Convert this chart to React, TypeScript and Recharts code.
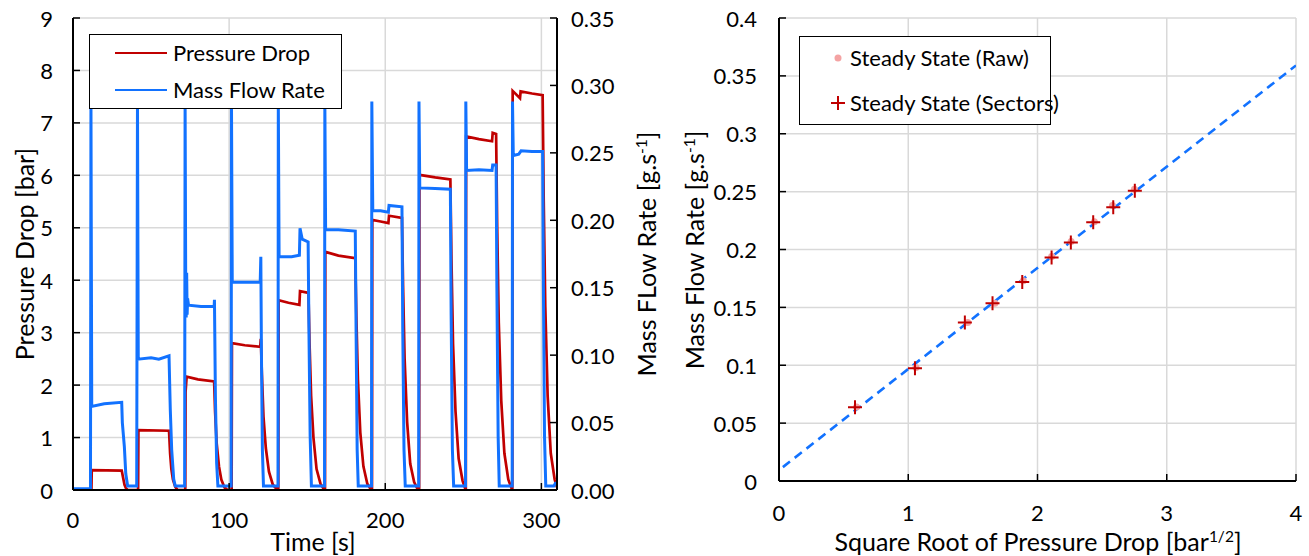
import React from 'react';
import { LineChart, Line, XAxis, YAxis, CartesianGrid, ScatterChart, Scatter } from 'recharts';

const FONT = 'Lato, "Open Sans", sans-serif';
const RED = '#c00000';
const BLUE = '#1272ff';
const PINK = '#f4a3a3';
const GRID = '#d9d9d9';

const timeTicks = [0, 100, 200, 300];
const pressureTicks = [0, 1, 2, 3, 4, 5, 6, 7, 8, 9];
const flowTicks = [0, 0.05, 0.1, 0.15, 0.2, 0.25, 0.3, 0.35];
const sqrtTicks = [0, 1, 2, 3, 4];
const rateTicks = [0, 0.05, 0.1, 0.15, 0.2, 0.25, 0.3, 0.35, 0.4];

// [time s, pressure drop bar]
const pressureDrop: [number, number][] = [
  [0, 0], [11.8, 0], [12, 0.38], [31.2, 0.37], [32, 0.25], [33, 0.1], [34, 0.03], [35, 0],
  [41.7, 0], [41.9, 1.14], [61.5, 1.13], [62.2, 0.7], [63, 0.4], [64, 0.2], [65.5, 0.06], [67, 0],
  [71.9, 0], [72.1, 1.87], [72.8, 2.16], [80, 2.11], [90.4, 2.07], [91, 1.5], [92, 0.9], [93.5, 0.45], [95, 0.2], [97, 0.05], [99, 0],
  [101.6, 0], [101.8, 2.8], [110, 2.76], [119.9, 2.73], [120.3, 2.88], [121, 2.2], [122, 1.4], [123.5, 0.8], [125.5, 0.35], [128, 0.1], [131, 0],
  [131.5, 0], [131.7, 3.62], [138, 3.57], [145, 3.53], [145.4, 3.79], [150.8, 3.76], [151.5, 2.8], [152.5, 1.8], [154, 1], [156, 0.4], [158.5, 0.12], [161, 0],
  [161.4, 0], [161.6, 4.54], [170, 4.47], [180.8, 4.42], [181.5, 3.3], [182.5, 2.1], [184, 1.1], [186, 0.45], [188.5, 0.12], [191, 0],
  [191.5, 0], [191.7, 5.15], [197, 5.12], [202, 5.09], [202.4, 5.23], [210.7, 5.19], [211.4, 3.9], [212.4, 2.5], [214, 1.3], [216, 0.5], [218.5, 0.15], [221, 0],
  [221.7, 0], [221.9, 6.01], [232, 5.96], [241.7, 5.92], [242.4, 4.4], [243.4, 2.8], [245, 1.5], [247, 0.6], [249.5, 0.18], [251.5, 0],
  [251.6, 0], [251.8, 6.74], [260, 6.69], [268.4, 6.65], [268.8, 6.81], [271, 6.79], [271.7, 5], [272.7, 3.2], [274.3, 1.7], [276.3, 0.7], [278.8, 0.2], [281.3, 0],
  [281.4, 0], [281.6, 7.61], [286.3, 7.47], [286.7, 7.6], [294, 7.56], [300.8, 7.53], [301.5, 5.5], [302.5, 3.5], [304, 1.8], [306, 0.7], [308.5, 0.2], [310, 0.05],
];

// [time s, mass flow rate g/s]
const massFlow: [number, number][] = [
  [0, 0.001], [11.2, 0.001], [11.5, 0.288], [12, 0.062], [20, 0.064], [31.2, 0.065], [31.6, 0.05], [32.9, 0.032], [33.8, 0.012], [35, 0.003], [40.8, 0.003],
  [41.3, 0.288], [41.8, 0.097], [50, 0.098], [55, 0.097], [61.5, 0.0995], [62.3, 0.06], [63.2, 0.03], [64.5, 0.008], [65.5, 0.003], [71.5, 0.003],
  [71.8, 0.288], [72.2, 0.15], [72.5, 0.128], [72.8, 0.161], [73.1, 0.13], [73.4, 0.142], [74, 0.137], [82, 0.136], [90.4, 0.136], [90.6, 0.141], [91.2, 0.07], [92, 0.02], [92.8, 0.003], [101.3, 0.003],
  [101.5, 0.288], [102, 0.154], [110, 0.154], [119.9, 0.154], [120.3, 0.173], [120.7, 0.1], [121.3, 0.03], [122, 0.003], [131.3, 0.003],
  [131.5, 0.288], [132, 0.173], [140, 0.173], [145, 0.174], [145.4, 0.194], [146.8, 0.186], [150.6, 0.184], [151.1, 0.12], [151.9, 0.04], [152.7, 0.003], [161.1, 0.003],
  [161.3, 0.288], [161.8, 0.193], [170, 0.193], [180.8, 0.192], [181.3, 0.12], [182, 0.03], [182.7, 0.003], [191.2, 0.003],
  [191.4, 0.288], [192, 0.207], [197, 0.207], [202, 0.206], [202.4, 0.211], [210.7, 0.21], [211.2, 0.12], [212, 0.03], [212.8, 0.003], [221.4, 0.003],
  [221.6, 0.288], [222.1, 0.224], [232, 0.2235], [241.7, 0.223], [242.2, 0.13], [243, 0.03], [243.8, 0.003], [251.4, 0.003],
  [251.6, 0.288], [252.1, 0.237], [260, 0.2375], [268.4, 0.237], [268.8, 0.241], [271, 0.241], [271.5, 0.15], [272.3, 0.04], [273, 0.003], [281.3, 0.003],
  [281.5, 0.288], [282, 0.248], [285.5, 0.249], [287, 0.2515], [294, 0.251], [300.8, 0.251], [301.3, 0.15], [302, 0.04], [302.8, 0.003], [308, 0.003], [309, 0.005], [310, 0.005],
];

// [sqrt(pressure drop) bar^0.5, mass flow rate g/s]
const sectorPoints: [number, number][] = [
  [0.588, 0.0637], [1.052, 0.0974], [1.438, 0.137], [1.652, 0.1535], [1.882, 0.172],
  [2.109, 0.193], [2.258, 0.206], [2.431, 0.2235], [2.586, 0.2365], [2.753, 0.2508],
];
const rawPoints: [number, number][] = [
  [0.6, 0.064], [1.06, 0.098], [1.46, 0.137], [1.67, 0.1535], [1.89, 0.173],
  [2.11, 0.194], [2.26, 0.207], [2.44, 0.224], [2.58, 0.238], [2.75, 0.252],
];
const fitPoints: [number, number][] = [[0.03, 0.012], [4, 0.359]];

const pressureRows = pressureDrop.map(([t, v]) => ({ t, v }));
const flowRows = massFlow.map(([t, v]) => ({ t, v }));
const sectorRows = sectorPoints.map(([x, y]) => ({ x, y }));
const rawRows = rawPoints.map(([x, y]) => ({ x, y }));
const fitRows = fitPoints.map(([x, y]) => ({ x, y }));

const TICK_FONT = 22;
const TITLE_FONT = 25;
const LEGEND_FONT = 22;

type Side = 'left' | 'right' | 'bottom';

// ticks point inward like the original, labels stay outside
function inwardTick(side: Side, gap: number, fmt: (v: number) => string) {
  return (props: any) => {
    const { x, y, payload } = props;
    const label = fmt(payload.value);
    const txt = { fontFamily: FONT, fontSize: TICK_FONT, fill: '#000' };
    if (side === 'left') {
      const ax = x + gap;
      return (
        <g>
          <line x1={ax} x2={ax + 7} y1={y} y2={y} stroke="#000" strokeWidth={1.5} />
          <text x={x} y={y} textAnchor="end" dominantBaseline="central" {...txt}>{label}</text>
        </g>
      );
    }
    if (side === 'right') {
      const ax = x - gap;
      return (
        <g>
          <line x1={ax} x2={ax - 7} y1={y} y2={y} stroke="#000" strokeWidth={1.5} />
          <text x={x} y={y} textAnchor="start" dominantBaseline="central" {...txt}>{label}</text>
        </g>
      );
    }
    const ay = y - gap;
    return (
      <g>
        <line x1={x} x2={x} y1={ay} y2={ay - 7} stroke="#000" strokeWidth={1.5} />
        <text x={x} y={y} textAnchor="middle" dominantBaseline="central" {...txt}>{label}</text>
      </g>
    );
  };
}

const crossShape = (props: any) => {
  const { cx, cy } = props;
  return (
    <path d={`M${cx - 7},${cy}H${cx + 7}M${cx},${cy - 7}V${cy + 7}`} stroke={RED} strokeWidth={2} fill="none" />
  );
};
const dotShape = (props: any) => <circle cx={props.cx} cy={props.cy} r={3.5} fill={PINK} />;
const noShape = () => <g />;

const title = (cx: number, cy: number, rotate: boolean): React.CSSProperties => ({
  position: 'absolute',
  left: cx,
  top: cy,
  transform: `translate(-50%, -50%)${rotate ? ' rotate(-90deg)' : ''}`,
  whiteSpace: 'nowrap',
  fontFamily: FONT,
  fontSize: TITLE_FONT,
  lineHeight: 1,
  color: '#000',
});

const sup: React.CSSProperties = { fontSize: '0.62em', position: 'relative', top: '-0.55em' };

const legendRow = (top: number): React.CSSProperties => ({
  position: 'absolute',
  left: 0,
  top,
  height: 0,
  width: '100%',
});

export default function App() {
  const axisLine = { stroke: '#000', strokeWidth: 2 };
  return (
    <div style={{ position: 'fixed', left: 0, top: 0, width: 1309, height: 556, background: '#fff' }}>
      <div style={{ position: 'absolute', left: 0, top: 0 }}>
        <LineChart width={640} height={556} margin={{ top: 18, right: 23, bottom: 36, left: 23 }}>
          <CartesianGrid yAxisId="left" stroke={GRID} strokeWidth={1.5} />
          <XAxis
            dataKey="t"
            type="number"
            domain={[0, 310]}
            ticks={timeTicks}
            allowDataOverflow
            height={30}
            axisLine={axisLine}
            tickLine={false}
            tickSize={0}
            tickMargin={29}
            tick={inwardTick('bottom', 29, (v) => String(v))}
          />
          <YAxis
            yAxisId="left"
            type="number"
            domain={[0, 9]}
            ticks={pressureTicks}
            allowDataOverflow
            width={50}
            axisLine={axisLine}
            tickLine={false}
            tickSize={0}
            tickMargin={20}
            tick={inwardTick('left', 20, (v) => String(v))}
          />
          <YAxis
            yAxisId="right"
            orientation="right"
            type="number"
            domain={[0, 0.35]}
            ticks={flowTicks}
            allowDataOverflow
            width={60}
            axisLine={axisLine}
            tickLine={false}
            tickSize={0}
            tickMargin={14}
            tick={inwardTick('right', 14, (v) => v.toFixed(2))}
          />
          <Line
            yAxisId="left"
            data={pressureRows}
            dataKey="v"
            type="linear"
            stroke={RED}
            strokeWidth={2.7}
            dot={false}
            isAnimationActive={false}
          />
          <Line
            yAxisId="right"
            data={flowRows}
            dataKey="v"
            type="linear"
            stroke={BLUE}
            strokeWidth={3}
            dot={false}
            isAnimationActive={false}
          />
        </LineChart>
      </div>

      <div style={{ position: 'absolute', left: 660, top: 0 }}>
        <ScatterChart width={649} height={556} margin={{ top: 18, right: 13, bottom: 45, left: 69 }}>
          <CartesianGrid stroke={GRID} strokeWidth={1.5} />
          <XAxis
            dataKey="x"
            type="number"
            domain={[0, 4]}
            ticks={sqrtTicks}
            allowDataOverflow
            height={30}
            axisLine={axisLine}
            tickLine={false}
            tickSize={0}
            tickMargin={31}
            tick={inwardTick('bottom', 31, (v) => String(v))}
          />
          <YAxis
            dataKey="y"
            type="number"
            domain={[0, 0.4]}
            ticks={rateTicks}
            allowDataOverflow
            width={50}
            axisLine={axisLine}
            tickLine={false}
            tickSize={0}
            tickMargin={22}
            tick={inwardTick('left', 22, (v) => String(v))}
          />
          <Scatter
            data={fitRows}
            line={{ stroke: BLUE, strokeWidth: 2.6, strokeDasharray: '9 6' }}
            shape={noShape}
            isAnimationActive={false}
          />
          <Scatter data={rawRows} shape={dotShape} isAnimationActive={false} />
          <Scatter data={sectorRows} shape={crossShape} isAnimationActive={false} />
        </ScatterChart>
      </div>

      {/* axis titles */}
      <div style={title(24, 254, true)}>Pressure Drop [bar]</div>
      <div style={title(646, 254, true)}>
        Mass FLow Rate [g.s<span style={sup}>-1</span>]
      </div>
      <div style={title(313, 541, false)}>Time [s]</div>
      <div style={title(694, 250, true)}>
        Mass Flow Rate [g.s<span style={sup}>-1</span>]
      </div>
      <div style={title(1038, 541, false)}>
        Square Root of Pressure Drop [bar<span style={sup}>1/2</span>]
      </div>

      {/* left legend */}
      <div
        style={{
          position: 'absolute',
          left: 89,
          top: 34,
          width: 253,
          height: 75,
          boxSizing: 'border-box',
          border: '1.5px solid #000',
          background: '#fff',
          fontFamily: FONT,
          fontSize: LEGEND_FONT,
        }}
      >
        {[
          { name: 'Pressure Drop', color: RED, y: 18 },
          { name: 'Mass Flow Rate', color: BLUE, y: 55 },
        ].map((r) => (
          <div key={r.name} style={legendRow(r.y)}>
            <div style={{ position: 'absolute', left: 25, top: -1.3, width: 52, height: 2.6, background: r.color }} />
            <div style={{ position: 'absolute', left: 83, top: 0, transform: 'translateY(-50%)', whiteSpace: 'nowrap', lineHeight: 1 }}>
              {r.name}
            </div>
          </div>
        ))}
      </div>

      {/* right legend */}
      <div
        style={{
          position: 'absolute',
          left: 799,
          top: 36,
          width: 252,
          height: 89,
          boxSizing: 'border-box',
          border: '1.5px solid #000',
          background: '#fff',
          fontFamily: FONT,
          fontSize: LEGEND_FONT,
        }}
      >
        <div style={legendRow(21)}>
          <svg style={{ position: 'absolute', left: 32, top: -6 }} width={12} height={12}>
            <circle cx={6} cy={6} r={3.5} fill={PINK} />
          </svg>
          <div style={{ position: 'absolute', left: 50, top: 0, transform: 'translateY(-50%)', whiteSpace: 'nowrap', lineHeight: 1 }}>
            Steady State (Raw)
          </div>
        </div>
        <div style={legendRow(66)}>
          <svg style={{ position: 'absolute', left: 30, top: -8 }} width={16} height={16}>
            <path d="M1,8H15M8,1V15" stroke={RED} strokeWidth={2} />
          </svg>
          <div style={{ position: 'absolute', left: 50, top: 0, transform: 'translateY(-50%)', whiteSpace: 'nowrap', lineHeight: 1 }}>
            Steady State (Sectors)
          </div>
        </div>
      </div>
    </div>
  );
}
